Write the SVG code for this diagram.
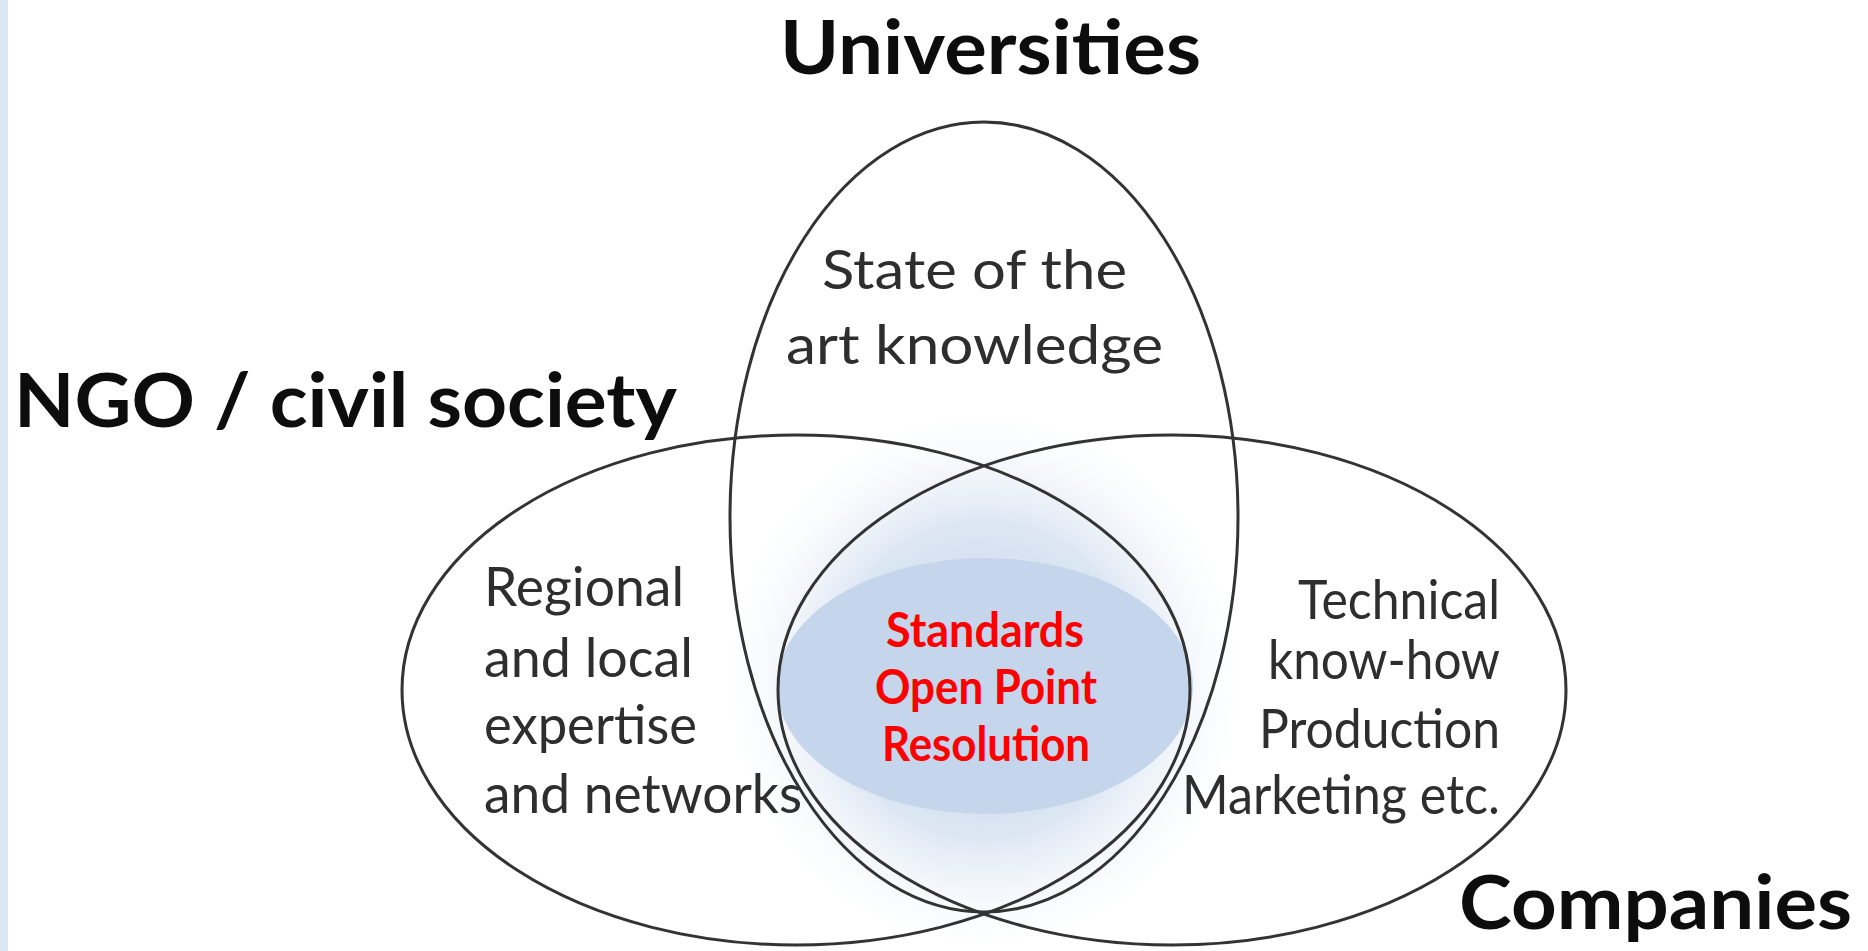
<svg xmlns="http://www.w3.org/2000/svg" width="1868" height="951" viewBox="0 0 1868 951">
  <defs>
    <radialGradient id="glow" cx="0.5" cy="0.5" r="0.5">
      <stop offset="0" stop-color="#c3d4eb" stop-opacity="1"/>
      <stop offset="0.55" stop-color="#d3e0f0" stop-opacity="0.8"/>
      <stop offset="1" stop-color="#ffffff" stop-opacity="0"/>
    </radialGradient>
    <style>
      .ring { fill: none; stroke: #333333; stroke-width: 3; }
      .head { font-family: Lato, "Open Sans", "Liberation Sans", sans-serif; font-weight: 700; font-size: 75px; fill: #0d0d0d; }
      .body { font-family: Lato, "Open Sans", "Liberation Sans", sans-serif; font-weight: 400; font-size: 55px; fill: #2e2e2e; }
      .core { font-family: Lato, "Open Sans", "Liberation Sans", sans-serif; font-weight: 700; font-size: 47px; fill: #ff0000; text-anchor: middle; }
    </style>
  </defs>
  <rect x="0" y="0" width="1868" height="951" fill="#ffffff"/>
  <rect x="0" y="0" width="8" height="951" fill="#dbe7f4"/>

  <g id="glow-bg">
    <ellipse cx="984" cy="680" rx="275" ry="285" fill="url(#glow)"/>
  </g>

  <g id="core">
    <ellipse cx="985" cy="686" rx="208" ry="128" fill="#c5d6ec"/>
    <text class="core" x="985" y="647" textLength="198" lengthAdjust="spacingAndGlyphs">Standards</text>
    <text class="core" x="986" y="704" textLength="222" lengthAdjust="spacingAndGlyphs">Open Point</text>
    <text class="core" x="986" y="761" textLength="208" lengthAdjust="spacingAndGlyphs">Resolution</text>
  </g>

  <g id="connectors">
    <ellipse id="ring-universities" class="ring" cx="984" cy="517" rx="254" ry="395"/>
    <ellipse id="ring-ngo" class="ring" cx="796" cy="690" rx="394" ry="255"/>
    <ellipse id="ring-companies" class="ring" cx="1172" cy="690" rx="394" ry="255"/>
  </g>

  <g id="universities">
    <text class="head" x="780" y="74" textLength="421" lengthAdjust="spacingAndGlyphs">Universities</text>
    <text class="body" x="822" y="289" textLength="305" lengthAdjust="spacingAndGlyphs">State of the</text>
    <text class="body" x="786" y="364" textLength="377" lengthAdjust="spacingAndGlyphs">art knowledge</text>
  </g>

  <g id="ngo">
    <text class="head" x="14" y="427" textLength="663" lengthAdjust="spacingAndGlyphs">NGO / civil society</text>
    <text class="body" x="484" y="606" textLength="200" lengthAdjust="spacingAndGlyphs">Regional</text>
    <text class="body" x="484" y="677" textLength="209" lengthAdjust="spacingAndGlyphs">and local</text>
    <text class="body" x="484" y="744" textLength="213" lengthAdjust="spacingAndGlyphs">expertise</text>
    <text class="body" x="484" y="813" textLength="318" lengthAdjust="spacingAndGlyphs">and networks</text>
  </g>

  <g id="companies">
    <text class="head" x="1459" y="929" textLength="393" lengthAdjust="spacingAndGlyphs">Companies</text>
    <text class="body" x="1298" y="619" textLength="202" lengthAdjust="spacingAndGlyphs">Technical</text>
    <text class="body" x="1268" y="679" textLength="232" lengthAdjust="spacingAndGlyphs">know-how</text>
    <text class="body" x="1259" y="748" textLength="241" lengthAdjust="spacingAndGlyphs">Production</text>
    <text class="body" x="1182" y="814" textLength="318" lengthAdjust="spacingAndGlyphs">Marketing etc.</text>
  </g>
</svg>
